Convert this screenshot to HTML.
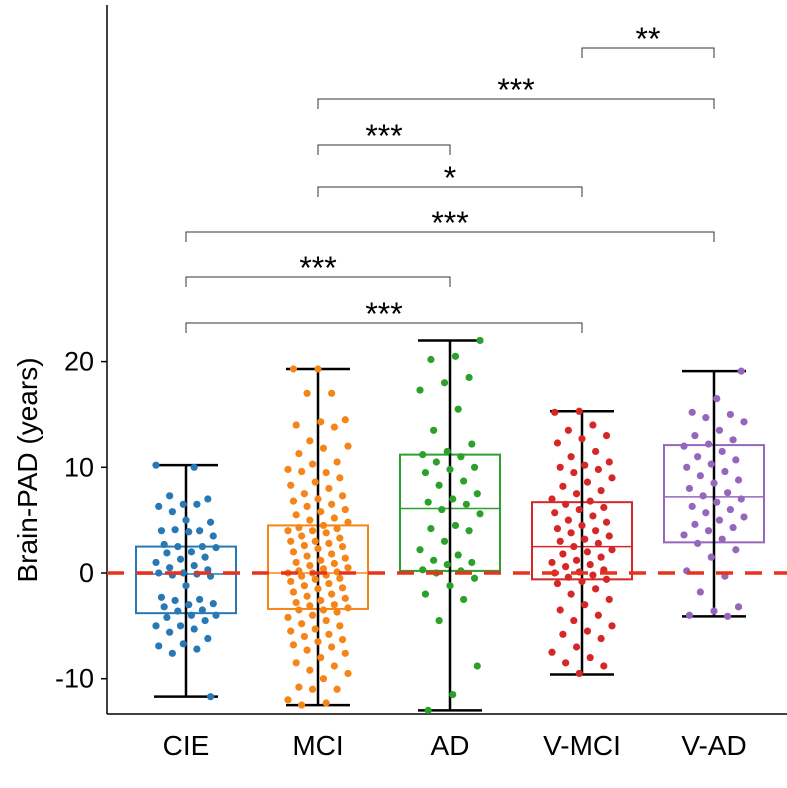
<!DOCTYPE html>
<html><head><meta charset="utf-8"><style>
body{margin:0;background:#fff;}
svg{display:block;font-family:"Liberation Sans",Arial,sans-serif;}
</style></head><body>
<svg id="chart" width="787" height="788" viewBox="0 0 787 788" xmlns="http://www.w3.org/2000/svg"></svg>
<script>
const categories=["CIE","MCI","AD","V-MCI","V-AD"];
const colors=["#2878b5","#f58518","#2ca02c","#d62728","#9467bd"];
const whiskerLow=[-11.7,-12.5,-13,-9.6,-4.1];
const q1=[-3.8,-3.4,0.2,-0.6,2.9];
const medians=[-0.1,0,6.1,2.5,7.2];
const q3=[2.5,4.5,11.2,6.7,12.1];
const whiskerHigh=[10.2,19.3,22,15.3,19.1];
const ptsCIE=[10.2,10,7.3,7,6.5,6.3,6.5,5.8,4.8,5,4,4,4.1,3.5,3.9,2.7,2.5,2.5,2.4,2,1.9,1.5,1.3,1,0.7,0.5,0.3,0,0,-0.1,-0.2,-0.3,-1.2,-2.3,-2.5,-2.6,-2.9,-3,-3.2,-3.5,-3.6,-4,-4,-4.2,-4.5,-5,-5,-5.3,-5.6,-6.2,-6.7,-6.9,-7.2,-7.6,-11.7];
const ptsMCI=[19.3,19.3,17,17,14.5,14.3,14,13.8,12.5,12,11.8,11.3,10.5,10.3,9.8,9.5,9.6,9,8.6,8.3,8,7.5,7.3,7,6.8,6.5,6.3,6,5.8,5.5,5.2,5,4.8,4.5,4.3,4.2,4,4,3.8,3.5,3.3,3,3,2.8,2.6,2.5,2.3,2,1.8,1.6,1.4,1.2,1,0.9,0.7,0.5,0.4,0.2,0.1,0,0,-0.2,-0.3,-0.5,-0.6,-0.8,-1,-1.2,-1.4,-1.5,-1.8,-2,-2.2,-2.4,-2.6,-2.8,-3,-3.1,-3.3,-3.5,-3.5,-3.7,-4,-4.2,-4.5,-4.8,-5,-5.3,-5.5,-5.8,-6,-6.3,-6.5,-6.8,-7,-7.3,-7.6,-8,-8.5,-8.8,-9.2,-9.5,-10,-10.8,-11,-11,-12,-12.3,-12.5];
const ptsAD=[22,20.5,20.2,18.5,18,17.3,15.5,13.5,12.2,11.5,11.2,11,10.5,10,9.8,9.5,8.7,8.3,7.5,7,6.7,6.5,6,5.6,4.5,4.2,4,3,2.2,1.7,1.2,1,0.8,0.3,0.2,0,-0.5,-1.2,-2,-2.5,-4.5,-8.8,-11.5,-13];
const ptsVMCI=[15.3,15.2,14,13.5,13,12.7,12.3,11.5,11,10.5,10.2,10,9.8,9.5,9,8.6,8.2,7.8,7.5,7,6.8,6.5,6.2,6,5.7,5.4,5,4.8,4.5,4.2,4,3.8,3.5,3.2,3,2.8,2.5,2.2,2,1.8,1.5,1.2,1,0.8,0.6,0.3,0.1,0,-0.2,-0.4,-0.6,-0.8,-1,-1.5,-2,-2.5,-3,-3.5,-4,-4.5,-5,-5.5,-5.8,-6.2,-7,-7.5,-8,-8.5,-8.8,-9.5];
const ptsVAD=[19.1,16.5,15.2,15,14.7,14.3,13.5,13,12.6,12.2,12,11.5,11,10.7,10.3,10,9.6,9.2,8.8,8.5,8,7.6,7.3,7,6.7,6.3,6,5.7,5.3,5,4.6,4.3,4,3.6,3.2,2.8,2.2,1.5,0.2,-0.3,-1.8,-3.2,-3.6,-4,-4.1];
const points=[ptsCIE,ptsMCI,ptsAD,ptsVMCI,ptsVAD];
const yTicks=[20,10,0,-10];
const comparisons=[[0,3,"***"],[0,2,"***"],[0,4,"***"],[1,3,"*"],[1,2,"***"],[1,4,"***"],[3,4,"**"]];

const svg=document.getElementById('chart');
const NS="http://www.w3.org/2000/svg";
const xScale=i=>186+132*i;
const yScale=v=>573-10.57*v;
function mk(tag,attrs,parent){const e=document.createElementNS(NS,tag);for(const k in attrs)e.setAttribute(k,attrs[k]);(parent||svg).appendChild(e);return e;}

const ax=mk('line',{x1:107,y1:5,x2:107,y2:714,stroke:'#000','stroke-width':1.5});


const axx=mk('line',{x1:107,y1:714,x2:787,y2:714,stroke:'#000','stroke-width':1.5});


yTicks.forEach(t=>{
  const y=yScale(t);
  const tk=mk('line',{x1:101,y1:y,x2:107,y2:y,stroke:'#000','stroke-width':1.5});
  
  
  const tx=mk('text',{x:94,y:y+9,'text-anchor':'end','font-size':27,fill:'#000'});
  tx.textContent=t;
  
  
});
const yl=mk('text',{x:0,y:0,transform:'translate(37,470) rotate(-90)','text-anchor':'middle','font-size':28,fill:'#000'});
yl.textContent='Brain-PAD (years)';



categories.forEach((c,i)=>{
  const cx=xScale(i),col=colors[i];
  const g=mk('g',{});
  
  
  mk('rect',{x:cx-50,y:yScale(q3[i]),width:100,height:yScale(q1[i])-yScale(q3[i]),fill:'none',stroke:col,'stroke-width':2},g);
  mk('line',{x1:cx-50,x2:cx+50,y1:yScale(medians[i]),y2:yScale(medians[i]),stroke:col,'stroke-width':1.5},g);
  mk('line',{x1:cx,x2:cx,y1:yScale(whiskerHigh[i]),y2:yScale(whiskerLow[i]),stroke:'#000','stroke-width':2.5},g);
  [whiskerHigh[i],whiskerLow[i]].forEach(v=>mk('line',{x1:cx-32,x2:cx+32,y1:yScale(v),y2:yScale(v),stroke:'#000','stroke-width':2.5},g));
  points[i].forEach((v,j)=>{
    const off=(((j*37+i*11)%23)/22-0.5)*60;
    const p=mk('circle',{cx:cx+off,cy:yScale(v),r:3.6,fill:col});
    
    
  });
  const xl=mk('text',{x:cx,y:755,'text-anchor':'middle','font-size':28,fill:'#000'});
  xl.textContent=c;
  
  
});
const ref=mk('line',{x1:107,x2:787,y1:yScale(0),y2:yScale(0),stroke:'#e8321e','stroke-width':3.5,'stroke-dasharray':'17 12'});



const brY=[323,277,232,187,145,99,48];
comparisons.forEach((cmp,k)=>{
  const [a,b,s]=cmp,y=brY[k],x1=xScale(a),x2=xScale(b);
  const g=mk('g',{});
  
  
  mk('path',{d:`M${x1},${y+10}V${y}H${x2}V${y+10}`,fill:'none',stroke:'#333','stroke-width':1},g);
  const t=mk('text',{x:(x1+x2)/2,y:y+2,'text-anchor':'middle','font-size':32,fill:'#000'},g);
  t.textContent=s;
});
</script>
</body></html>
